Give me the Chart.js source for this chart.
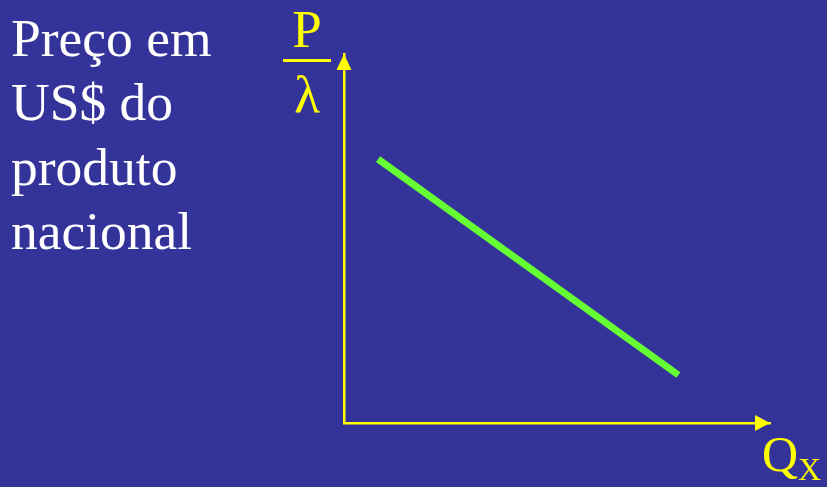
<!DOCTYPE html>
<html>
<head>
<meta charset="utf-8">
<script src="https://cdn.jsdelivr.net/npm/chart.js@4.4.1/dist/chart.umd.min.js"></script>
<style>
    html, body { margin: 0; padding: 0; background: #333399; }
    #wrap { position: relative; width: 827px; height: 487px; overflow: hidden; background: #333399; }
    #chart { position: absolute; left: 0; top: 0; }
    .txt { position: absolute; font-family: "Liberation Serif", "Times New Roman", serif; white-space: nowrap; }
    #title { left: 11px; top: 6px; color: #ffffff; font-size: 53.5px; line-height: 64.3px; }
    #yP { left: 283px; width: 48px; top: -3px; text-align: center; color: #ffff00; font-size: 53px; line-height: 64px; }
    #yBar { position: absolute; left: 283px; top: 59px; width: 48px; height: 2.5px; background: #ffff00; }
    #yL { left: 283px; width: 48px; top: 62px; text-align: center; color: #ffff00; font-size: 53px; line-height: 64px; }
    #xQ { left: 762px; top: 422px; color: #ffff00; font-size: 50px; line-height: 64px; }
    #xQ sub { font-size: 32px; vertical-align: -9px; }
</style>
</head>
<body>
<div id="wrap">
    <canvas id="chart" width="827" height="487"></canvas>
    <div class="txt" id="title">Preço em<br>US$ do<br>produto<br>nacional</div>
    <div class="txt" id="yP">P</div>
    <div id="yBar"></div>
    <div class="txt" id="yL">λ</div>
    <div class="txt" id="xQ">Q<sub>X</sub></div>
</div>
<script>
//------data
const quantity = [8, 78.5];     // Q_X
const price = [71.5, 13];       // P / lambda

const points = [];
for (let i = 0; i < quantity.length; i++) {
    points.push({ x: quantity[i], y: price[i] });
}

//------arrow heads on the axes
const arrows = {
    id: 'arrows',
    afterDraw(chart) {
        const { ctx, chartArea: { left, right, top, bottom } } = chart;
        ctx.save();
        ctx.fillStyle = '#ffff00';
        ctx.beginPath();
        ctx.moveTo(left, top);
        ctx.lineTo(left - 7.5, top + 16);
        ctx.lineTo(left + 7.5, top + 16);
        ctx.closePath();
        ctx.fill();
        ctx.beginPath();
        ctx.moveTo(right, bottom);
        ctx.lineTo(right - 15, bottom - 8);
        ctx.lineTo(right - 15, bottom + 8);
        ctx.closePath();
        ctx.fill();
        ctx.restore();
    }
};

const config = {
    type: 'scatter',
    data: {
        datasets: [{
            data: points,
            showLine: true,
            borderColor: '#66ff33',
            backgroundColor: '#66ff33',
            borderWidth: 7,
            borderCapStyle: 'butt',
            pointRadius: 0
        }]
    },
    options: {
        responsive: false,
        animation: false,
        layout: {
            padding: { top: 54, right: 57, bottom: 64, left: 344 }
        },
        plugins: {
            legend: { display: false },
            tooltip: { enabled: false }
        },
        scales: {
            x: {
                min: 0, max: 100,
                grid: { display: false, drawTicks: false },
                ticks: { display: false },
                border: { display: true, color: '#ffff00', width: 2.5 }
            },
            y: {
                min: 0, max: 100,
                grid: { display: false, drawTicks: false },
                ticks: { display: false },
                border: { display: true, color: '#ffff00', width: 2.5 }
            }
        }
    },
    plugins: [arrows]
};
const myChart = new Chart(document.getElementById('chart'), config);
</script>
</body>
</html>
